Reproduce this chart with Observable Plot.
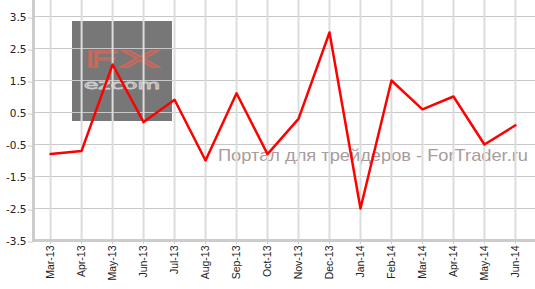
<!DOCTYPE html>
<html><head><meta charset="utf-8">
<script src="https://cdn.jsdelivr.net/npm/d3@7"></script>
<script src="https://cdn.jsdelivr.net/npm/@observablehq/plot@0.6"></script>
<style>
body{margin:0;background:#fff;}
#wrap{position:relative;width:535px;height:289px;}
#bg{position:absolute;left:0;top:0;z-index:0;}
#chart{position:absolute;left:0;top:0;z-index:1;}
</style></head><body>
<div id="wrap">
<svg id="bg" width="535" height="289">
  <rect x="72" y="21" width="100" height="100" fill="#777777"/>
  <text x="84" y="67" font-family="DejaVu Sans" font-size="21" fill="none" stroke="#c8695c" stroke-width="1.3" textLength="76" lengthAdjust="spacingAndGlyphs">FX</text>
  <text x="84" y="89" font-family="DejaVu Sans" font-size="12" fill="none" stroke="#cfcfcf" stroke-width="0.8" textLength="76" lengthAdjust="spacingAndGlyphs">ezcom</text>
  <text x="218" y="161" font-family="Liberation Sans" font-size="17" fill="#a89c9c" textLength="310" lengthAdjust="spacingAndGlyphs">Портал для трейдеров - ForTrader.ru</text>
</svg>
<div id="chart"></div>
</div>
<script>
const months = ["Mar-13","Apr-13","May-13","Jun-13","Jul-13","Aug-13","Sep-13","Oct-13","Nov-13","Dec-13","Jan-14","Feb-14","Mar-14","Apr-14","May-14","Jun-14"];
const values = [-0.8,-0.7,2.0,0.2,0.9,-1.0,1.1,-0.8,0.3,3.0,-2.5,1.5,0.6,1.0,-0.5,0.1];
const yTicks = [-3.5,-2.5,-1.5,-0.5,0.5,1.5,2.5,3.5];
const data = months.map((m,i)=>({month:m, value:values[i]}));
const chart = Plot.plot({
  width:535, height:289, marginLeft:33, marginRight:0, marginTop:0, marginBottom:49,
  style:{background:"transparent", fontFamily:"DejaVu Sans", fontSize:"10.5px", color:"#222", overflow:"visible"},
  x:{type:"point", domain:months, padding:0.6, align:0.46, round:false},
  y:{domain:[-3.5,4.0]},
  marks:[
    Plot.gridY(yTicks,{stroke:"#c8c8c8", strokeOpacity:1, strokeWidth:1}),
    Plot.gridX(months,{stroke:"#dcdcdc", strokeOpacity:1, strokeWidth:2}),
    Plot.ruleY([-3.5],{stroke:"#cccccc", strokeWidth:3}),
    Plot.frame({anchor:"left", stroke:"#cccccc", strokeWidth:3}),
    Plot.axisY(yTicks,{tickSize:5, tickPadding:2, stroke:"#cccccc", tickFormat:d=>d.toFixed(1), label:null, dy:1.5}),
    Plot.axisX({tickRotate:-90, tickSize:4, tickPadding:1, stroke:"#cccccc", label:null, fontFamily:"Liberation Sans", fontSize:10.5}),
    Plot.line(data,{x:"month", y:"value", stroke:"#ff0000", strokeWidth:2.5})
  ]
});
document.getElementById("chart").appendChild(chart);
</script>
</body></html>
